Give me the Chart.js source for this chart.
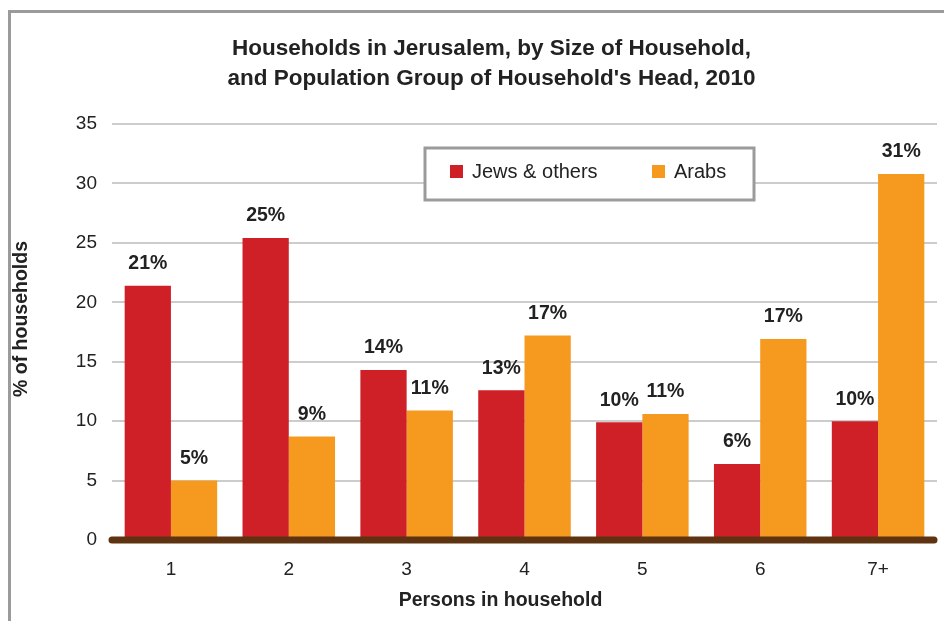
<!DOCTYPE html>
<html lang="en">
<head>
    <meta charset="UTF-8">
    <title>Households in Jerusalem</title>
    <style>
        html, body { margin: 0; padding: 0; background: #fff; }
        .wrap { position: relative; width: 944px; height: 621px; overflow: hidden; }
        .frame { position: absolute; left: 8px; top: 10px; width: 960px; height: 640px;
                 border-left: 3px solid #9b9b9b; border-top: 3px solid #9b9b9b; }
        canvas { position: absolute; left: 0; top: 0; }
    </style>
</head>
<body>
<div class="wrap">
    <div class="frame"></div>
    <canvas id="householdChart" width="944" height="621"></canvas>
</div>

<script src="https://cdn.jsdelivr.net/npm/chart.js"></script>
<script>
const categories = ['1', '2', '3', '4', '5', '6', '7+'];
const jewsValues = [21.4, 25.4, 14.3, 12.6, 9.9, 6.4, 10.0];
const arabsValues = [5.0, 8.7, 10.9, 17.2, 10.6, 16.9, 30.8];
const jewsLabels = ['21%', '25%', '14%', '13%', '10%', '6%', '10%'];
const arabsLabels = ['5%', '9%', '11%', '17%', '11%', '17%', '31%'];
const yTicks = [0, 5, 10, 15, 20, 25, 30, 35];

const FONT = '"Liberation Sans", Arial, Helvetica, sans-serif';
const RED = '#cf2027';
const ORANGE = '#f6991f';

// nudge the titles the way the original is laid out
// (y scale bottom is only moved while the axes draw, so bar clipping stays right)
const titleShift = {
    id: 'titleShift',
    afterLayout(chart) {
        chart.titleBlock.left += 36;
        chart.scales.x.left -= 48;
    },
    beforeDraw(chart) {
        chart.scales.y.bottom -= 26;
    },
    beforeDatasetsDraw(chart) {
        chart.scales.y.bottom += 26;
    }
};

// value labels over each bar
const barLabels = {
    id: 'barLabels',
    afterDatasetsDraw(chart) {
        const ctx = chart.ctx;
        ctx.save();
        ctx.font = 'bold 19.5px ' + FONT;
        ctx.fillStyle = '#222';
        ctx.textAlign = 'center';
        ctx.textBaseline = 'middle';
        chart.data.datasets.forEach((ds, i) => {
            chart.getDatasetMeta(i).data.forEach((bar, j) => {
                ctx.fillText(ds.valueLabels[j], bar.x, bar.y - 22);
            });
        });
        ctx.restore();
    }
};

// thick brown baseline with round ends
const baseline = {
    id: 'baseline',
    afterDatasetsDraw(chart) {
        const ctx = chart.ctx;
        const y = chart.scales.y.getPixelForValue(0);
        ctx.save();
        ctx.strokeStyle = '#5e3312';
        ctx.lineWidth = 7;
        ctx.lineCap = 'round';
        ctx.beginPath();
        ctx.moveTo(chart.chartArea.left, y);
        ctx.lineTo(chart.chartArea.right - 3, y);
        ctx.stroke();
        ctx.restore();
    }
};

// boxed legend inside the plot
const boxLegend = {
    id: 'boxLegend',
    afterDraw(chart) {
        const ctx = chart.ctx;
        const x = 425, y = 148, w = 329, h = 52;
        ctx.save();
        ctx.fillStyle = '#fff';
        ctx.fillRect(x, y, w, h);
        ctx.strokeStyle = '#9b9b9b';
        ctx.lineWidth = 3;
        ctx.strokeRect(x, y, w, h);
        ctx.font = '20px ' + FONT;
        ctx.textBaseline = 'middle';
        const itemX = [450, 652];
        chart.data.datasets.forEach((ds, i) => {
            ctx.fillStyle = ds.backgroundColor;
            ctx.fillRect(itemX[i], y + 17, 13, 13);
            ctx.fillStyle = '#222';
            ctx.fillText(ds.label, itemX[i] + 22, y + 24);
        });
        ctx.restore();
    }
};

const ctx = document.getElementById('householdChart').getContext('2d');
new Chart(ctx, {
    type: 'bar',
    data: {
        labels: categories,
        datasets: [
            { label: 'Jews & others', data: jewsValues, valueLabels: jewsLabels, backgroundColor: RED },
            { label: 'Arabs', data: arabsValues, valueLabels: arabsLabels, backgroundColor: ORANGE }
        ]
    },
    options: {
        responsive: false,
        animation: false,
        layout: { padding: { left: 10, right: 7, top: 24, bottom: 0 } },
        datasets: {
            bar: { categoryPercentage: 0.785, barPercentage: 1.0 }
        },
        plugins: {
            legend: { display: false },
            tooltip: { enabled: false },
            title: {
                display: true,
                text: ['Households in Jerusalem, by Size of Household,', "and Population Group of Household's Head, 2010"],
                color: '#222',
                font: { family: FONT, size: 22.5, weight: 'bold', lineHeight: 1.333 },
                padding: { top: 10, bottom: 30 }
            }
        },
        scales: {
            x: {
                afterFit(scale) {
                    scale.height = 81;
                },
                grid: { display: false, drawTicks: false },
                border: { display: false },
                ticks: { color: '#222', font: { family: FONT, size: 19 }, padding: 18 },
                title: {
                    display: true,
                    text: 'Persons in household',
                    color: '#222',
                    font: { family: FONT, size: 19.5, weight: 'bold' },
                    padding: { top: 6, bottom: 9 }
                }
            },
            y: {
                min: 0,
                max: 35,
                afterBuildTicks(scale) {
                    scale.ticks = yTicks.map(v => ({ value: v }));
                },
                afterFit(scale) {
                    scale.width = 102;
                },
                grid: { color: '#cccccc', lineWidth: 2, drawTicks: false },
                border: { display: false },
                ticks: { color: '#222', font: { family: FONT, size: 19 }, padding: 15 },
                title: {
                    display: true,
                    text: '% of households',
                    color: '#222',
                    font: { family: FONT, size: 19.5, weight: 'bold' },
                    padding: { top: 0, bottom: 0 }
                }
            }
        }
    },
    plugins: [titleShift, barLabels, baseline, boxLegend]
});
</script>
</body>
</html>
